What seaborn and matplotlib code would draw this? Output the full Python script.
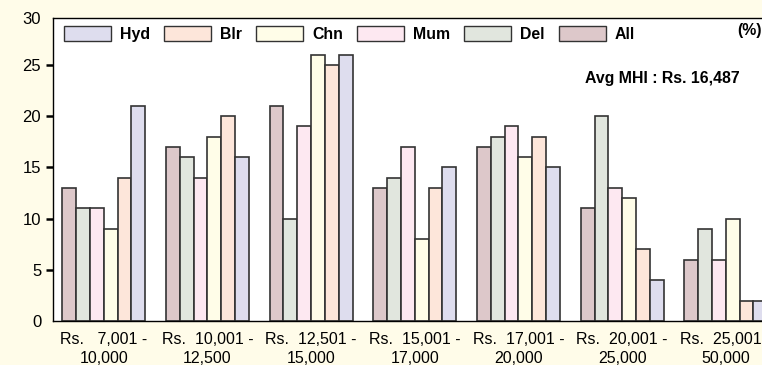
import matplotlib
matplotlib.use("Agg")
import matplotlib.pyplot as plt
import numpy as np
import pandas as pd
import seaborn as sns
from matplotlib.patches import Patch

# Monthly household income bands (x categories)
income_bands = [
    "Rs.   7,001 -\n10,000",
    "Rs.  10,001 -\n12,500",
    "Rs.  12,501 -\n15,000",
    "Rs.  15,001 -\n17,000",
    "Rs.  17,001 -\n20,000",
    "Rs.  20,001 -\n25,000",
    "Rs.  25,001 -\n50,000",
]

# Share of households (%) in each band, per city
share_all = [13, 17, 21, 13, 17, 11, 6]
share_del = [11, 16, 10, 14, 18, 20, 9]
share_mum = [11, 14, 19, 17, 19, 13, 6]
share_chn = [9, 18, 26, 8, 16, 12, 10]
share_blr = [14, 20, 25, 13, 18, 7, 2]
share_hyd = [21, 16, 26, 15, 15, 4, 2]

bar_order = ["All", "Del", "Mum", "Chn", "Blr", "Hyd"]
legend_order = ["Hyd", "Blr", "Chn", "Mum", "Del", "All"]
y_ticks = [0, 5, 10, 15, 20, 25]
y_tick_labels = ["0", "5", "10", "15", "20", "25"]
y_top_label = "30"
note_text = "Avg MHI : Rs. 16,487"
unit_text = "(%)"

city_colors = {
    "Hyd": "#DEDDEE",
    "Blr": "#FDE6DA",
    "Chn": "#FFFDE8",
    "Mum": "#FDE8F1",
    "Del": "#E1E6DE",
    "All": "#DDC8CA",
}

series = {
    "All": share_all, "Del": share_del, "Mum": share_mum,
    "Chn": share_chn, "Blr": share_blr, "Hyd": share_hyd,
}
df = pd.DataFrame(
    [(band, city, val)
     for city, vals in series.items()
     for band, val in zip(income_bands, vals)],
    columns=["band", "city", "share"],
)

plt.rcParams["font.family"] = ["Liberation Sans", "DejaVu Sans"]

W, H = 762, 365
fig = plt.figure(figsize=(W / 100, H / 100), dpi=100)
fig.patch.set_facecolor("#FFFCE9")

# axes geometry in pixels
ax_left, ax_bottom, ax_top = 53, 321, 18.3
group_px = 103.67
x_lo, x_hi = -0.49, 6.5
px_per_unit = 10.24
y_hi = (ax_bottom - ax_top) / px_per_unit
ax_w_px = group_px * (x_hi - x_lo)
ax_h_px = ax_bottom - ax_top

ax = fig.add_axes([
    ax_left / W,
    (H - ax_bottom) / H,
    ax_w_px / W,
    ax_h_px / H,
])
ax.set_facecolor("white")

sns.barplot(
    data=df, x="band", y="share", hue="city",
    order=income_bands, hue_order=bar_order,
    palette=city_colors, saturation=1, errorbar=None,
    edgecolor="#333333", linewidth=1.2, legend=False, ax=ax,
)

ax.set_xlim(x_lo, x_hi)
ax.set_ylim(0, y_hi)
ax.set_xlabel("")
ax.set_ylabel("")

ax.set_yticks(y_ticks + [y_hi])
ax.set_yticklabels(y_tick_labels + [y_top_label], fontsize=12)
ax.tick_params(axis="y", length=5, width=1.8, pad=3.5, colors="black")
ticks = ax.yaxis.get_major_ticks()
ticks[0].tick1line.set_visible(False)
ticks[-1].tick1line.set_visible(False)

ax.set_xticks(range(len(income_bands)))
ax.set_xticklabels(income_bands, fontsize=11.5, linespacing=1.3)
ax.tick_params(axis="x", length=0, pad=8)

for side in ["left", "top", "bottom"]:
    ax.spines[side].set_color("black")
    ax.spines[side].set_linewidth(1.0)
ax.spines["right"].set_visible(False)

handles = [Patch(facecolor=city_colors[c], edgecolor="#333333", linewidth=1.0, label=c)
           for c in legend_order]
fs_bold = 11.4
fs_px = fs_bold * 100 / 72
leg = ax.legend(
    handles=handles, ncol=6, frameon=False,
    loc="center left",
    bbox_to_anchor=((64 - ax_left) / ax_w_px, (ax_bottom - 34) / ax_h_px),
    borderaxespad=0, borderpad=0,
    handlelength=47 / fs_px, handleheight=16 / fs_px,
    handletextpad=9 / fs_px, columnspacing=14 / fs_px,
    prop={"weight": "bold", "size": fs_bold},
)

ax.text((585 - ax_left) / ax_w_px, (ax_bottom - 82.7) / ax_h_px,
        note_text, transform=ax.transAxes, ha="left", va="baseline",
        fontsize=fs_bold, fontweight="bold")
ax.text((762 - ax_left) / ax_w_px, (ax_bottom - 35.5) / ax_h_px,
        unit_text, transform=ax.transAxes, ha="right", va="baseline",
        fontsize=fs_bold, fontweight="bold")

fig.savefig("out.png", dpi=100, facecolor=fig.get_facecolor())
